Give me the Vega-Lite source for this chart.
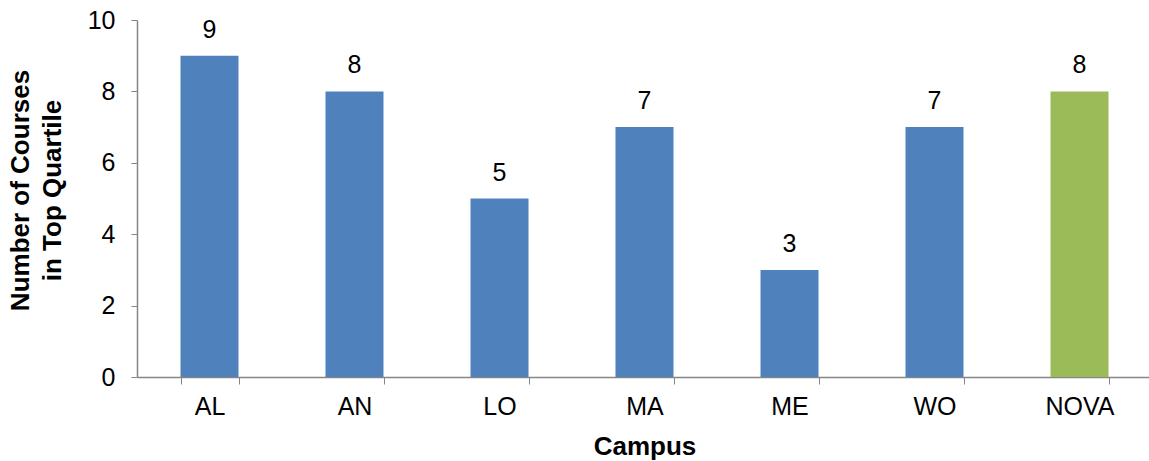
{
  "$schema": "https://vega.github.io/schema/vega-lite/v6.json",
  "autosize": "none",
  "width": 1015,
  "height": 357,
  "padding": {"left": 137, "top": 20, "right": 0, "bottom": 84},
  "background": "white",
  "config": {
    "view": {"stroke": null},
    "font": "Liberation Sans",
    "axis": {"domainColor": "#868686", "tickColor": "#868686", "labelColor": "#000000", "titleColor": "#000000", "grid": false, "labelFont": "Liberation Sans", "titleFont": "Liberation Sans"}
  },
  "data": {
    "values": [
      {"campus": "AL", "courses": 9, "group": "campus"},
      {"campus": "AN", "courses": 8, "group": "campus"},
      {"campus": "LO", "courses": 5, "group": "campus"},
      {"campus": "MA", "courses": 7, "group": "campus"},
      {"campus": "ME", "courses": 3, "group": "campus"},
      {"campus": "WO", "courses": 7, "group": "campus"},
      {"campus": "NOVA", "courses": 8, "group": "nova"}
    ]
  },
  "encoding": {
    "x": {
      "field": "campus", "type": "nominal", "sort": null,
      "scale": {"paddingInner": 0.6, "paddingOuter": 0.3},
      "axis": {"title": "Campus", "labelAngle": 0, "labelFontSize": 25, "titleFontSize": 26, "titleFontWeight": "bold", "tickBand": "extent", "tickSize": 7, "labelPadding": 10, "titlePadding": 14, "domainWidth": 1.5}
    },
    "y": {
      "field": "courses", "type": "quantitative",
      "scale": {"domain": [0, 10]},
      "axis": {"title": ["Number of Courses", "in Top Quartile"], "values": [0, 2, 4, 6, 8, 10], "labelFontSize": 25, "titleFontSize": 26, "titleFontWeight": "bold", "titleLineHeight": 32, "titleY": 170, "tickSize": 6, "labelPadding": 16, "titlePadding": 22, "domainWidth": 1.5}
    }
  },
  "layer": [
    {
      "mark": {"type": "bar"},
      "encoding": {
        "color": {"field": "group", "type": "nominal", "scale": {"domain": ["campus", "nova"], "range": ["#4F81BD", "#9BBB59"]}, "legend": null}
      }
    },
    {
      "mark": {"type": "text", "baseline": "alphabetic", "dy": -18, "fontSize": 25, "color": "#000000"},
      "encoding": {"text": {"field": "courses", "type": "quantitative"}}
    }
  ]
}
